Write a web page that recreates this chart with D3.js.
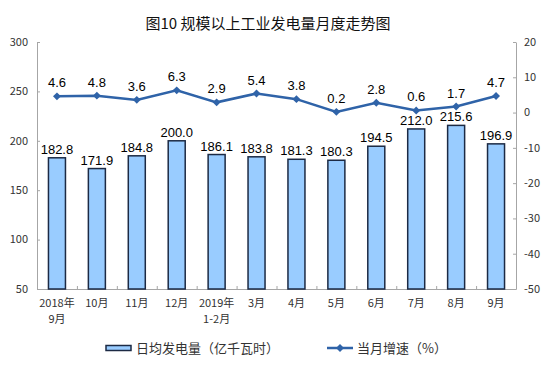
<!DOCTYPE html>
<html>
<head>
<meta charset="utf-8">
<script src="https://cdn.jsdelivr.net/npm/d3@7"></script>
<style>
	body { margin: 0; background: #fff; }
	svg { display: block; }
</style>
</head>
<body>
<svg id="chart" width="556" height="381"></svg>
<script>
const months = ["2018年\n9月", "10月", "11月", "12月", "2019年\n1-2月", "3月", "4月", "5月", "6月", "7月", "8月", "9月"];
const dailyOutput = [182.8, 171.9, 184.8, 200.0, 186.1, 183.8, 181.3, 180.3, 194.5, 212.0, 215.6, 196.9];
const growthRate = [4.6, 4.8, 3.6, 6.3, 2.9, 5.4, 3.8, 0.2, 2.8, 0.6, 1.7, 4.7];
const leftTicks = [50, 100, 150, 200, 250, 300];
const rightTicks = [-50, -40, -30, -20, -10, 0, 10, 20];

const svg = d3.select("#chart");
const cjk = "'Noto Sans CJK SC', sans-serif";
const latin = "'Liberation Sans', Arial, sans-serif";

const plotLeft = 37, plotRight = 516, plotTop = 42, plotBottom = 289;

const x = d3.scaleBand().domain(months).range([plotLeft, plotRight]);
const yLeft = d3.scaleLinear().domain([50, 300]).range([plotBottom, plotTop]);
const yRight = d3.scaleLinear().domain([-50, 20]).range([plotBottom, plotTop]);
const cx = (i) => x(months[i]) + x.bandwidth() / 2;

// title
svg.append("text")
	.attr("x", 268)
	.attr("y", 29)
	.attr("text-anchor", "middle")
	.attr("font-family", cjk)
	.attr("font-size", "15px")
	.attr("fill", "#111")
	.text("图10 规模以上工业发电量月度走势图");

// axes
const axisColor = "#a6a6a6";
const leftAxis = svg.append("g")
	.attr("transform", `translate(${plotLeft},0)`)
	.call(d3.axisRight(yLeft).tickValues(leftTicks).tickSize(3).tickFormat("").tickSizeOuter(0));
const rightAxis = svg.append("g")
	.attr("transform", `translate(${plotRight},0)`)
	.call(d3.axisLeft(yRight).tickValues(rightTicks).tickSize(3).tickFormat("").tickSizeOuter(0));
const bottomAxis = svg.append("g")
	.attr("transform", `translate(0,${plotBottom})`)
	.call(d3.axisTop(d3.scaleLinear().domain([0, 12]).range([plotLeft, plotRight])).ticks(12).tickSize(3).tickFormat("").tickSizeOuter(0));
[leftAxis, rightAxis, bottomAxis].forEach((g) => {
	g.select(".domain").attr("stroke", axisColor);
	g.selectAll(".tick line").attr("stroke", axisColor);
});

// tick labels
svg.append("g").selectAll("text")
	.data(leftTicks)
	.join("text")
	.attr("x", 28)
	.attr("y", (d) => yLeft(d))
	.attr("dy", "0.35em")
	.attr("text-anchor", "end")
	.attr("font-family", cjk)
	.attr("font-size", "11px")
	.attr("fill", "#333")
	.text((d) => d);

svg.append("g").selectAll("text")
	.data(rightTicks)
	.join("text")
	.attr("x", 524)
	.attr("y", (d) => yRight(d))
	.attr("dy", "0.35em")
	.attr("text-anchor", "start")
	.attr("font-family", cjk)
	.attr("font-size", "11px")
	.attr("fill", "#333")
	.text((d) => d);

const xLabels = svg.append("g").selectAll("text")
	.data(months)
	.join("text")
	.attr("y", 307)
	.attr("text-anchor", "middle")
	.attr("font-family", cjk)
	.attr("font-size", "11px")
	.attr("fill", "#333");
xLabels.each(function (d, i) {
	d.split("\n").forEach((line, j) => {
		d3.select(this).append("tspan")
			.attr("x", cx(i))
			.attr("dy", j === 0 ? 0 : 16)
			.text(line);
	});
});

// bars
const barW = 17;
svg.append("g").selectAll("rect")
	.data(dailyOutput)
	.join("rect")
	.attr("x", (d, i) => cx(i) - barW / 2)
	.attr("y", (d) => yLeft(d))
	.attr("width", barW)
	.attr("height", (d) => plotBottom - yLeft(d))
	.attr("fill", "#99ccff")
	.attr("stroke", "#1c2a44")
	.attr("stroke-width", 1.5);

svg.append("g").selectAll("text")
	.data(dailyOutput)
	.join("text")
	.attr("x", (d, i) => cx(i))
	.attr("y", (d) => yLeft(d) - 4)
	.attr("text-anchor", "middle")
	.attr("font-family", latin)
	.attr("font-size", "13px")
	.attr("fill", "#000")
	.text((d) => d.toFixed(1));

// line
const lineColor = "#2f63a8";
const line = d3.line()
	.x((d, i) => cx(i))
	.y((d) => yRight(d));
svg.append("path")
	.datum(growthRate)
	.attr("d", line)
	.attr("fill", "none")
	.attr("stroke", lineColor)
	.attr("stroke-width", 2.5);

const diamond = d3.symbol().type(d3.symbolDiamond2).size(40);
svg.append("g").selectAll("path")
	.data(growthRate)
	.join("path")
	.attr("d", diamond)
	.attr("transform", (d, i) => `translate(${cx(i)},${yRight(d)})`)
	.attr("fill", lineColor);

svg.append("g").selectAll("text")
	.data(growthRate)
	.join("text")
	.attr("x", (d, i) => cx(i))
	.attr("y", (d) => yRight(d) - 9)
	.attr("text-anchor", "middle")
	.attr("font-family", latin)
	.attr("font-size", "13px")
	.attr("fill", "#000")
	.text((d) => d.toFixed(1));

// legend
svg.append("rect")
	.attr("x", 106)
	.attr("y", 345.5)
	.attr("width", 25)
	.attr("height", 5)
	.attr("fill", "#99ccff")
	.attr("stroke", "#1c2a44")
	.attr("stroke-width", 1.5);
svg.append("text")
	.attr("x", 136)
	.attr("y", 348)
	.attr("dy", "0.35em")
	.attr("font-family", cjk)
	.attr("font-size", "13px")
	.attr("fill", "#333")
	.text("日均发电量（亿千瓦时）");

svg.append("line")
	.attr("x1", 327).attr("x2", 353)
	.attr("y1", 348).attr("y2", 348)
	.attr("stroke", lineColor)
	.attr("stroke-width", 2.5);
svg.append("path")
	.attr("d", diamond)
	.attr("transform", "translate(340,348)")
	.attr("fill", lineColor);
svg.append("text")
	.attr("x", 357)
	.attr("y", 348)
	.attr("dy", "0.35em")
	.attr("font-family", cjk)
	.attr("font-size", "13px")
	.attr("fill", "#333")
	.text("当月增速（%）");
</script>
</body>
</html>
